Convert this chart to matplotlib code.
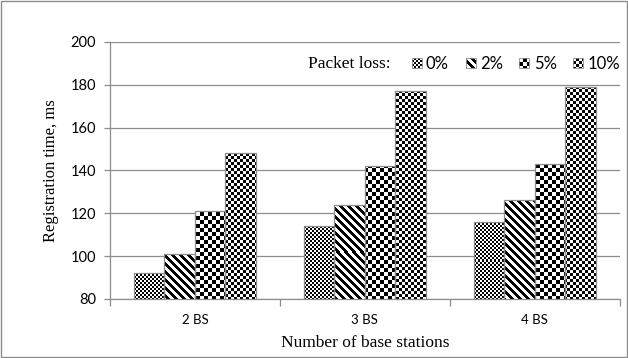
import matplotlib
matplotlib.use("Agg")
import matplotlib.pyplot as plt
import numpy as np
from matplotlib.patches import Patch, Rectangle
from matplotlib.legend_handler import HandlerBase
from matplotlib.image import BboxImage
from matplotlib.transforms import Bbox, TransformedBbox

categories = ["2 BS", "3 BS", "4 BS"]
series_labels = ["0%", "2%", "5%", "10%"]
values = {
    "0%": [92, 114, 116],
    "2%": [101, 124, 126],
    "5%": [121, 142, 143],
    "10%": [148, 177, 179],
}
y_ticks = [80, 100, 120, 140, 160, 180, 200]

GRAY = "#8c8c8c"


def texture(kind, w, h, x0=0, y0=0):
    X, Y = np.meshgrid(np.arange(w) + x0, np.arange(h) + y0)
    if kind == 0:
        return ((X // 2 + Y // 2) % 2).astype(float)
    if kind == 1:
        return (((X - Y) // 4) % 2).astype(float)
    if kind == 2:
        a = ((X // 4 + Y // 4) % 2).astype(float)
        spot = ((X // 4) % 4 == 1) & ((Y // 4) % 8 == 3) & (a > 0)
        a[spot] = 0.0
        return a
    return ((X // 3 + Y // 3) % 2).astype(float)


fig = plt.figure(figsize=(6.28, 3.58), dpi=100)
fig.patch.set_facecolor("white")
fig.add_artist(Rectangle((0.002, 0.003), 0.996, 0.994, transform=fig.transFigure,
                         fill=False, edgecolor=GRAY, linewidth=1.0))
ax = fig.add_axes([0.175, 0.165, 0.812, 0.718])
ax.set_ylim(80, 200)
ax.set_xlim(-0.5, 2.5)

x = np.arange(len(categories))
bw = 0.18
H = fig.get_figheight() * fig.dpi
for i, s in enumerate(series_labels):
    vals = np.array(values[s])
    bars = ax.bar(x + (i - 1.5) * bw, vals - 80, bottom=80, width=bw,
                  facecolor="none", edgecolor=GRAY, linewidth=0.9, zorder=4)
    for b in bars:
        x0d, x1d = b.get_x(), b.get_x() + b.get_width()
        y0d, y1d = b.get_y(), b.get_y() + b.get_height()
        (px0, py0), (px1, py1) = ax.transData.transform([(x0d, y0d), (x1d, y1d)])
        w = max(int(round(px1 - px0)), 1)
        h = max(int(round(py1 - py0)), 1)
        arr = texture(i, w, h, int(round(px0)), int(round(H - py1)))
        im = ax.imshow(arr, extent=(x0d, x1d, y0d, y1d), aspect="auto", origin="upper",
                       interpolation="nearest", cmap="gray_r", vmin=0, vmax=1, zorder=3)
        im.set_clip_path(b)

ax.set_ylim(80, 200)
ax.set_xlim(-0.5, 2.5)
ax.set_yticks(y_ticks)
ax.set_yticklabels([str(t) for t in y_ticks], fontfamily="Lato", fontsize=10.5)
ax.yaxis.grid(True, color=GRAY, linewidth=0.9, zorder=0)
ax.set_axisbelow(True)

ax.set_xticks(x)
ax.set_xticklabels(categories, fontfamily="Lato", fontsize=9.5)
ax.tick_params(axis="x", length=0, pad=11)
ax.set_xticks([-0.5, 0.5, 1.5, 2.5], minor=True)
ax.tick_params(axis="x", which="minor", length=5, color=GRAY, width=0.9)
ax.tick_params(axis="y", length=4, color=GRAY, width=0.9, pad=6)

for sp in ["top", "right"]:
    ax.spines[sp].set_visible(False)
for sp in ["left", "bottom"]:
    ax.spines[sp].set_color(GRAY)
    ax.spines[sp].set_linewidth(0.9)

ax.set_ylabel("Registration time, ms", fontfamily="Liberation Serif", fontsize=12, labelpad=8)
ax.set_xlabel("Number of base stations", fontfamily="Liberation Serif", fontsize=12.5, labelpad=6)


class TextureHandler(HandlerBase):
    def __init__(self, kind):
        super().__init__()
        self.kind = kind

    def create_artists(self, legend, orig_handle, xdescent, ydescent, width, height,
                       fontsize, trans):
        side = min(width, height)
        bb = Bbox.from_bounds(-xdescent, -ydescent + (height - side) / 2, side, side)
        tbb = TransformedBbox(bb, trans)
        img = BboxImage(tbb, cmap="gray_r", norm=plt.Normalize(0, 1), interpolation="nearest",
                        origin="upper")
        img.set_data(texture(self.kind, 10, 10))
        frame = Rectangle((-xdescent, -ydescent + (height - side) / 2), side, side,
                          fill=False, edgecolor=GRAY, linewidth=0.6, transform=trans)
        return [img, frame]


handles = [Patch(label=s) for s in series_labels]
ax.text(0.388, 0.914, "Packet loss:", transform=ax.transAxes, fontfamily="Liberation Serif",
        fontsize=12.5, va="center", ha="left")
leg = ax.legend(handles, series_labels, ncol=4, loc="center left", bbox_to_anchor=(0.592, 0.914),
                frameon=False, handlelength=0.6, handleheight=0.6, handletextpad=0.25,
                columnspacing=1.0, borderpad=0, borderaxespad=0,
                handler_map={h: TextureHandler(k) for k, h in enumerate(handles)},
                prop={"family": "Lato", "size": 12})

fig.savefig("out.png", dpi=100, facecolor="white")
